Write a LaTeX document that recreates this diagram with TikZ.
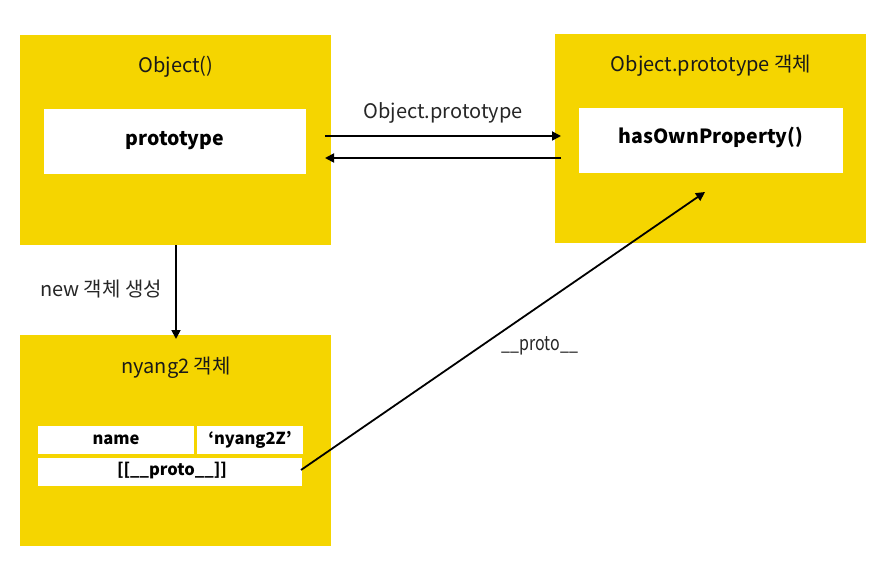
\documentclass[tikz,border=0pt]{standalone}
\usepackage{fontspec}
\setmainfont{Noto Sans CJK KR}
\usetikzlibrary{arrows.meta}
\definecolor{boxyellow}{RGB}{245,213,0}
\tikzset{
  ybox/.style={fill=boxyellow, draw=none},
  wcell/.style={fill=white, draw=none},
  title/.style={font=\fontsize{20}{24}\selectfont, text=black!90},
  bold/.style={font=\fontsize{19.5}{23}\selectfont\bfseries},
  small/.style={font=\fontsize{16.5}{19}\selectfont\bfseries},
  lbl/.style={font=\fontsize{20}{24}\selectfont, text=black!85},
  conn/.style={line width=1.8pt, -{Triangle[length=9pt,width=9pt]}},
}
\begin{document}
\begin{tikzpicture}[x=1pt,y=-1pt]
\useasboundingbox (0,0) rectangle (886,564);
% boxes
\fill[ybox] (20,35) rectangle (331,245);
\fill[ybox] (555,34) rectangle (866,243);
\fill[ybox] (20,335) rectangle (331,546);
\fill[wcell] (44,109) rectangle (306,174);
\fill[wcell] (579,108) rectangle (843,173);
\fill[wcell] (38,426) rectangle (194,454);
\fill[wcell] (197,426) rectangle (303,454);
\fill[wcell] (38,458) rectangle (302,486);
% texts
\node[title] (t1) at (176,67) {Object()};
\node[title] (t2) at (711,66) {Object.prototype 객체};
\node[title] (t3) at (176,368) {nyang2 객체};
\node[bold] (p1) at (175,141) {prototype};
\node[bold] (p2) at (711,137) {hasOwnProperty()};
\node[small] (c1) at (116,440) {name};
\node[small] (c2) at (250,440) {‘nyang2Z’};
\node[small] (c3) at (172,471) {[[\_\_proto\_\_]]};
% connector anchors
\coordinate (a1) at (325,136);
\coordinate (b1) at (561,136);
\coordinate (a2) at (561,158);
\coordinate (b2) at (325,158);
\coordinate (v1) at (176,245);
\coordinate (v2) at (176,339);
\coordinate (d1) at (301,470);
\coordinate (d2) at (705,192);
\draw[conn] (a1) -- (b1);
\draw[conn] (a2) -- (b2);
\draw[conn] (v1) -- (v2);
\draw[conn] (d1) -- (d2);
\node[lbl] (l1) at (443,113) {Object.prototype};
\node[lbl] (l2) at (101,289) {new 객체 생성};
\node[lbl] (l3) at (540,346) {\scalebox{0.8}[1]{\_\_proto\_\_}};
\end{tikzpicture}
\end{document}
